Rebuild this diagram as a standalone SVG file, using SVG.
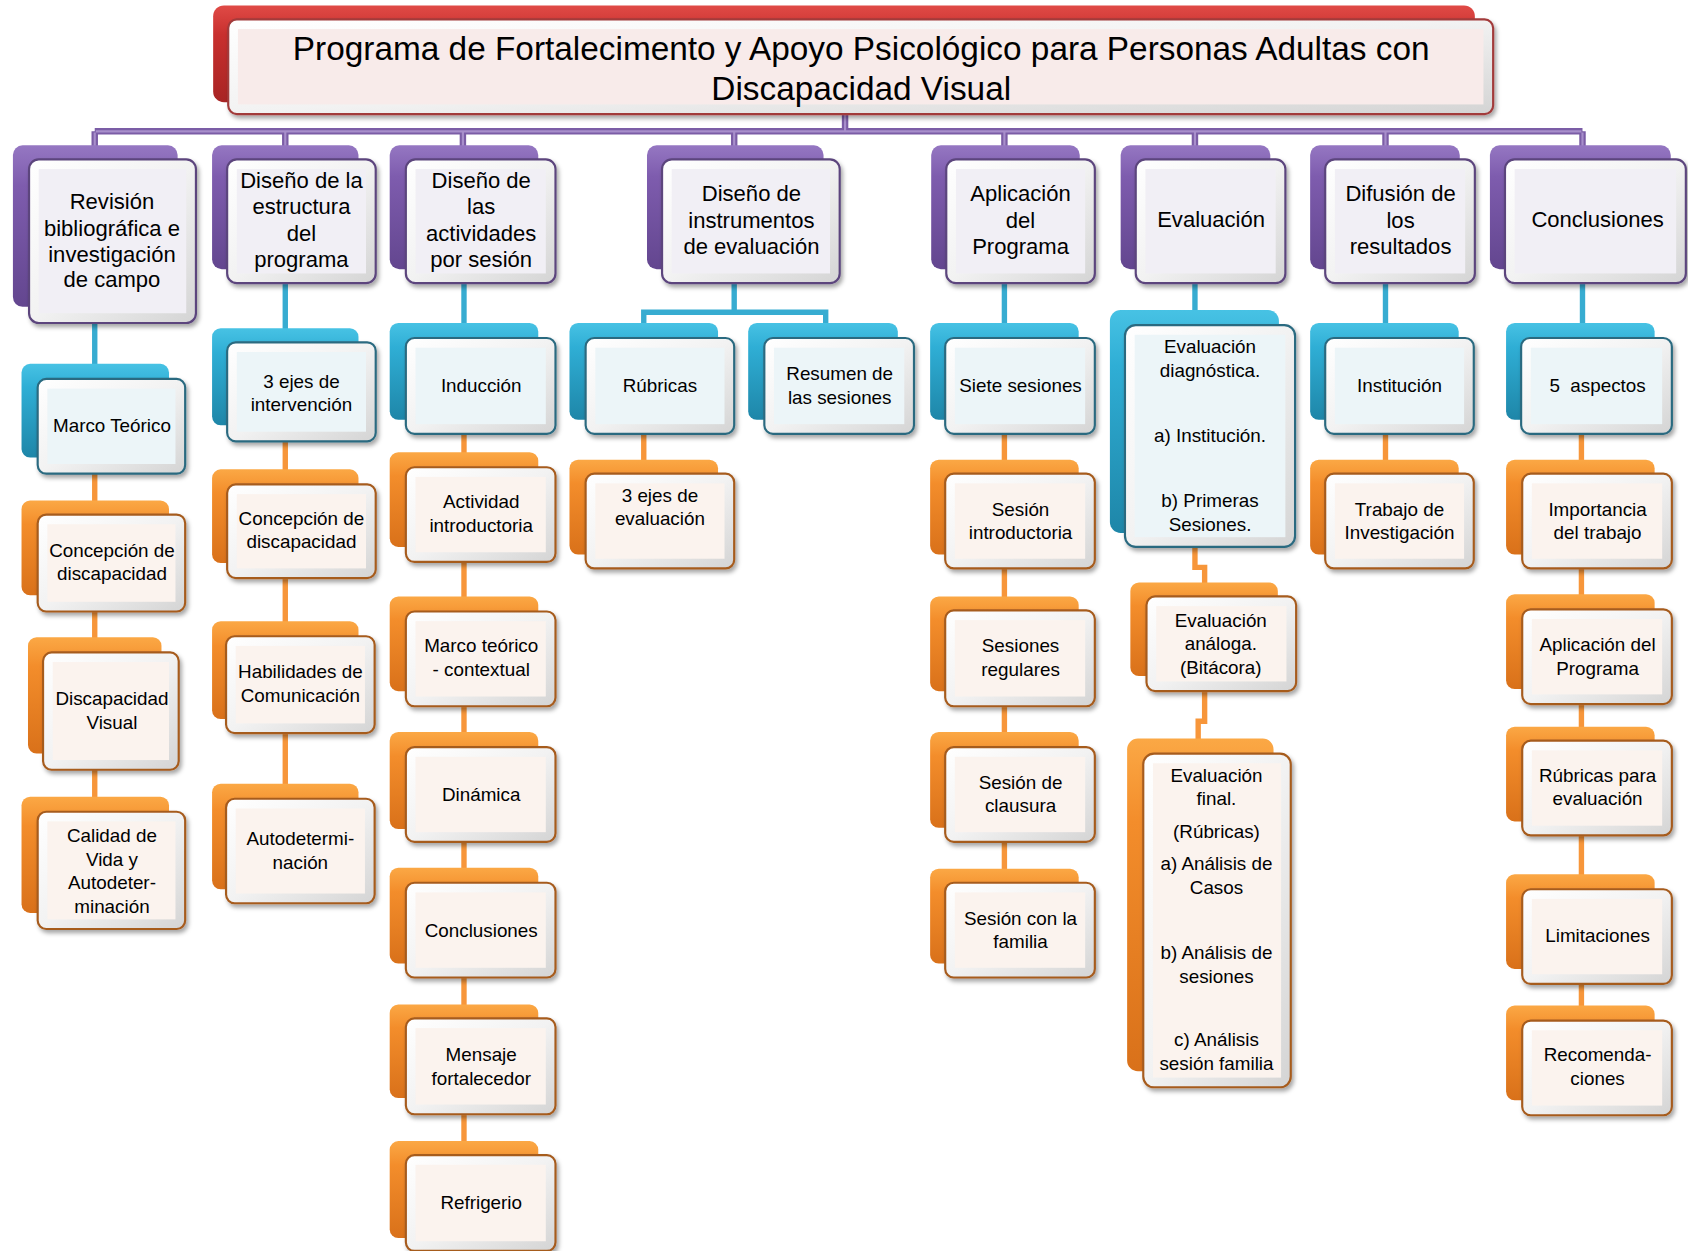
<svg xmlns="http://www.w3.org/2000/svg" width="1688" height="1251" viewBox="0 0 1688 1251">
<defs>
<linearGradient id="gP" x1="0" y1="0" x2="0" y2="1"><stop offset="0" stop-color="#9577C2"/><stop offset="0.25" stop-color="#7E5CAE"/><stop offset="1" stop-color="#63468F"/></linearGradient>
<linearGradient id="gB" x1="0" y1="0" x2="0" y2="1"><stop offset="0" stop-color="#47C2E4"/><stop offset="0.25" stop-color="#2FAED5"/><stop offset="1" stop-color="#1E86A8"/></linearGradient>
<linearGradient id="gO" x1="0" y1="0" x2="0" y2="1"><stop offset="0" stop-color="#FBA845"/><stop offset="0.25" stop-color="#F38D2B"/><stop offset="1" stop-color="#D9711A"/></linearGradient>
<linearGradient id="gR" x1="0" y1="0" x2="0" y2="1"><stop offset="0" stop-color="#E04A46"/><stop offset="0.3" stop-color="#C8302E"/><stop offset="1" stop-color="#A82424"/></linearGradient>
<linearGradient id="frame" x1="0" y1="0" x2="1" y2="1"><stop offset="0" stop-color="#FFFFFF"/><stop offset="0.5" stop-color="#F2F2F2"/><stop offset="1" stop-color="#D4D4D4"/></linearGradient>
<filter id="sh" x="-10%" y="-10%" width="125%" height="125%"><feDropShadow dx="2" dy="3" stdDeviation="2" flood-color="#000" flood-opacity="0.35"/></filter>
<style>
text{font-family:"Liberation Sans",Arial,sans-serif;fill:#000;text-anchor:middle}
.t0{font-size:31px}
.t1{font-size:20.5px}
.t2{font-size:17.5px}
.front{fill:url(#frame);stroke-width:2;filter:url(#sh)}
.purple .back{fill:url(#gP)}
.purple .front{stroke:#5B457D}
.purple .inner{fill:#F1EFF5}
.blue .back{fill:url(#gB)}
.blue .front{stroke:#2B6A80}
.blue .inner{fill:#ECF5F8}
.orange .back{fill:url(#gO)}
.orange .front{stroke:#A65B1F}
.orange .inner{fill:#FBF3EE}
.red .back{fill:url(#gR)}
.red .front{stroke:#A23A3A}
.red .inner{fill:#F8EBEA}
.cp{fill:none;stroke:#7B5DA6;stroke-width:6}
.cpi{fill:none;stroke:#A88FCB;stroke-width:2}
.cb{fill:none;stroke:#37ACD1;stroke-width:5}
.co{fill:none;stroke:#F7963A;stroke-width:5}
</style>
</defs>
<rect x="0" y="0" width="1688" height="1251" fill="#FFFFFF"/>
<g transform="scale(1.07653)">
<g id="connectors">
<path class="cp" d="M785,106 V122 M88,122 H1470 M88,122 V137 M265,122 V137 M430,122 V137 M682,122 V137 M933,122 V137 M1110,122 V137 M1287,122 V137 M1470,122 V137"/>
<path class="cpi" d="M785,106 V121 M89,122 H1469 M88,123 V137 M265,123 V137 M430,123 V137 M682,123 V137 M933,123 V137 M1110,123 V137 M1287,123 V137 M1470,123 V137"/>
<path class="cb" d="M88,298 V340 M265,262 V307 M431,262 V302 M682,262 V290 M598,302 V290 H767 V302 M933,262 V302 M1110,262 V290 M1287,262 V302 M1470,262 V302"/>
<path class="co" d="M88,438 V467 M88,566 V594 M88,713 V742 M265,408 V438 M265,535 V579 M265,679 V730 M431,401 V1062 M598,401 V429 M933,401 V809 M1110,506 V527 H1119 V543 M1119,640 V670 H1113 V688 M1287,401 V429 M1469,401 V936"/>
</g>

<g id="title" class="red">
<rect class="back" x="198" y="5" width="1172" height="90" rx="10"/>
<rect class="front" x="212" y="18" width="1175" height="88" rx="8"/>
<rect class="inner" x="221" y="27" width="1157" height="70"/>
<text class="t0" x="800"><tspan x="800" y="56">Programa de Fortalecimento y Apoyo Psicológico para Personas Adultas con</tspan><tspan x="800" y="93">Discapacidad Visual</tspan></text>
</g>

<g id="n-revision" class="node purple">
<rect class="back" x="12" y="135" width="153" height="150" rx="9"/>
<rect class="front" x="27" y="148" width="155" height="152" rx="9"/>
<rect class="inner" x="36" y="157" width="137" height="134"/>
<text class="t1"><tspan x="104" y="194">Revisión</tspan><tspan x="104" y="219">bibliográfica e</tspan><tspan x="104" y="243">investigación</tspan><tspan x="104" y="267">de campo</tspan></text>
</g>
<g id="n-estructura" class="node purple">
<rect class="back" x="197" y="135" width="136" height="115" rx="9"/>
<rect class="front" x="211" y="148" width="138" height="115" rx="9"/>
<rect class="inner" x="220" y="157" width="120" height="97"/>
<text class="t1"><tspan x="280" y="175">Diseño de la</tspan><tspan x="280" y="199">estructura</tspan><tspan x="280" y="224">del</tspan><tspan x="280" y="248">programa</tspan></text>
</g>
<g id="n-actividades" class="node purple">
<rect class="back" x="362" y="135" width="138" height="115" rx="9"/>
<rect class="front" x="377" y="148" width="139" height="115" rx="9"/>
<rect class="inner" x="386" y="157" width="121" height="97"/>
<text class="t1"><tspan x="447" y="175">Diseño de</tspan><tspan x="447" y="199">las</tspan><tspan x="447" y="224">actividades</tspan><tspan x="447" y="248">por sesión</tspan></text>
</g>
<g id="n-instrumentos" class="node purple">
<rect class="back" x="601" y="135" width="164" height="115" rx="9"/>
<rect class="front" x="615" y="148" width="165" height="115" rx="9"/>
<rect class="inner" x="624" y="157" width="147" height="97"/>
<text class="t1"><tspan x="698" y="187">Diseño de</tspan><tspan x="698" y="212">instrumentos</tspan><tspan x="698" y="236">de evaluación</tspan></text>
</g>
<g id="n-aplicacion" class="node purple">
<rect class="back" x="865" y="135" width="138" height="115" rx="9"/>
<rect class="front" x="879" y="148" width="138" height="115" rx="9"/>
<rect class="inner" x="888" y="157" width="120" height="97"/>
<text class="t1"><tspan x="948" y="187">Aplicación</tspan><tspan x="948" y="212">del</tspan><tspan x="948" y="236">Programa</tspan></text>
</g>
<g id="n-evaluacion" class="node purple">
<rect class="back" x="1041" y="135" width="139" height="115" rx="9"/>
<rect class="front" x="1055" y="148" width="139" height="115" rx="9"/>
<rect class="inner" x="1064" y="157" width="121" height="97"/>
<text class="t1" x="1125" y="211">Evaluación</text>
</g>
<g id="n-difusion" class="node purple">
<rect class="back" x="1217" y="135" width="139" height="115" rx="9"/>
<rect class="front" x="1231" y="148" width="139" height="115" rx="9"/>
<rect class="inner" x="1240" y="157" width="121" height="97"/>
<text class="t1"><tspan x="1301" y="187">Difusión de</tspan><tspan x="1301" y="212">los</tspan><tspan x="1301" y="236">resultados</tspan></text>
</g>
<g id="n-conclusiones" class="node purple">
<rect class="back" x="1384" y="135" width="168" height="115" rx="9"/>
<rect class="front" x="1398" y="148" width="168" height="115" rx="9"/>
<rect class="inner" x="1407" y="157" width="150" height="97"/>
<text class="t1" x="1484" y="211">Conclusiones</text>
</g>

<g id="n-marco-teorico" class="node blue">
<rect class="back" x="20" y="338" width="137" height="87" rx="8"/>
<rect class="front" x="35" y="352" width="137" height="88" rx="8"/>
<rect class="inner" x="44" y="361" width="119" height="70"/>
<text class="t2" x="104" y="401">Marco Teórico</text>
</g>
<g id="n-ejes-intervencion" class="node blue">
<rect class="back" x="197" y="305" width="136" height="90" rx="8"/>
<rect class="front" x="211" y="318" width="138" height="92" rx="8"/>
<rect class="inner" x="220" y="327" width="120" height="74"/>
<text class="t2"><tspan x="280" y="360">3 ejes de</tspan><tspan x="280" y="382">intervención</tspan></text>
</g>
<g id="n-induccion" class="node blue">
<rect class="back" x="362" y="300" width="138" height="90" rx="8"/>
<rect class="front" x="377" y="314" width="139" height="89" rx="8"/>
<rect class="inner" x="386" y="323" width="121" height="71"/>
<text class="t2" x="447" y="364">Inducción</text>
</g>
<g id="n-rubricas" class="node blue">
<rect class="back" x="529" y="300" width="138" height="90" rx="8"/>
<rect class="front" x="544" y="314" width="138" height="89" rx="8"/>
<rect class="inner" x="553" y="323" width="120" height="71"/>
<text class="t2" x="613" y="364">Rúbricas</text>
</g>
<g id="n-resumen" class="node blue">
<rect class="back" x="695" y="300" width="139" height="90" rx="8"/>
<rect class="front" x="710" y="314" width="139" height="89" rx="8"/>
<rect class="inner" x="719" y="323" width="121" height="71"/>
<text class="t2"><tspan x="780" y="353">Resumen de</tspan><tspan x="780" y="375">las sesiones</tspan></text>
</g>
<g id="n-siete-sesiones" class="node blue">
<rect class="back" x="864" y="300" width="138" height="90" rx="8"/>
<rect class="front" x="878" y="314" width="139" height="89" rx="8"/>
<rect class="inner" x="887" y="323" width="121" height="71"/>
<text class="t2" x="948" y="364">Siete sesiones</text>
</g>
<g id="n-diagnostica" class="node blue">
<rect class="back" x="1031" y="288" width="157" height="207" rx="10"/>
<rect class="front" x="1045" y="302" width="158" height="206" rx="10"/>
<rect class="inner" x="1054" y="311" width="140" height="188"/>
<text class="t2"><tspan x="1124" y="328">Evaluación</tspan><tspan x="1124" y="350">diagnóstica.</tspan><tspan x="1124" y="411">a) Institución.</tspan><tspan x="1124" y="471">b) Primeras</tspan><tspan x="1124" y="493">Sesiones.</tspan></text>
</g>
<g id="n-institucion" class="node blue">
<rect class="back" x="1217" y="300" width="138" height="90" rx="8"/>
<rect class="front" x="1231" y="314" width="138" height="89" rx="8"/>
<rect class="inner" x="1240" y="323" width="120" height="71"/>
<text class="t2" x="1300" y="364">Institución</text>
</g>
<g id="n-aspectos" class="node blue">
<rect class="back" x="1399" y="300" width="138" height="90" rx="8"/>
<rect class="front" x="1413" y="314" width="140" height="89" rx="8"/>
<rect class="inner" x="1422" y="323" width="122" height="71"/>
<text class="t2" x="1484" y="364">5&#160; aspectos</text>
</g>

<g id="n-concepcion-1" class="node orange">
<rect class="back" x="20" y="465" width="137" height="88" rx="8"/>
<rect class="front" x="35" y="478" width="137" height="90" rx="8"/>
<rect class="inner" x="44" y="487" width="119" height="72"/>
<text class="t2"><tspan x="104" y="517">Concepción de</tspan><tspan x="104" y="539">discapacidad</tspan></text>
</g>
<g id="n-discapacidad-visual" class="node orange">
<rect class="back" x="26" y="592" width="124" height="108" rx="8"/>
<rect class="front" x="40" y="606" width="126" height="109" rx="8"/>
<rect class="inner" x="49" y="615" width="108" height="91"/>
<text class="t2"><tspan x="104" y="655">Discapacidad</tspan><tspan x="104" y="677">Visual</tspan></text>
</g>
<g id="n-calidad" class="node orange">
<rect class="back" x="20" y="740" width="137" height="108" rx="8"/>
<rect class="front" x="35" y="754" width="137" height="109" rx="8"/>
<rect class="inner" x="44" y="763" width="119" height="91"/>
<text class="t2"><tspan x="104" y="782">Calidad de</tspan><tspan x="104" y="804">Vida y</tspan><tspan x="104" y="826">Autodeter-</tspan><tspan x="104" y="848">minación</tspan></text>
</g>
<g id="n-concepcion-2" class="node orange">
<rect class="back" x="197" y="436" width="136" height="87" rx="8"/>
<rect class="front" x="211" y="450" width="138" height="87" rx="8"/>
<rect class="inner" x="220" y="459" width="120" height="69"/>
<text class="t2"><tspan x="280" y="488">Concepción de</tspan><tspan x="280" y="509">discapacidad</tspan></text>
</g>
<g id="n-habilidades" class="node orange">
<rect class="back" x="197" y="577" width="136" height="91" rx="8"/>
<rect class="front" x="210" y="591" width="138" height="90" rx="8"/>
<rect class="inner" x="219" y="600" width="120" height="72"/>
<text class="t2"><tspan x="279" y="630">Habilidades de</tspan><tspan x="279" y="652">Comunicación</tspan></text>
</g>
<g id="n-autodeterminacion" class="node orange">
<rect class="back" x="197" y="728" width="136" height="98" rx="8"/>
<rect class="front" x="210" y="742" width="138" height="97" rx="8"/>
<rect class="inner" x="219" y="751" width="120" height="79"/>
<text class="t2"><tspan x="279" y="785">Autodetermi-</tspan><tspan x="279" y="807">nación</tspan></text>
</g>

<g id="n-actividad-intro" class="node orange">
<rect class="back" x="362" y="420" width="138" height="88" rx="8"/>
<rect class="front" x="377" y="434" width="139" height="88" rx="8"/>
<rect class="inner" x="386" y="443" width="121" height="70"/>
<text class="t2"><tspan x="447" y="472">Actividad</tspan><tspan x="447" y="494">introductoria</tspan></text>
</g>
<g id="n-marco-contextual" class="node orange">
<rect class="back" x="362" y="554" width="138" height="88" rx="8"/>
<rect class="front" x="377" y="568" width="139" height="88" rx="8"/>
<rect class="inner" x="386" y="577" width="121" height="70"/>
<text class="t2"><tspan x="447" y="606">Marco teórico</tspan><tspan x="447" y="628">- contextual</tspan></text>
</g>
<g id="n-dinamica" class="node orange">
<rect class="back" x="362" y="680" width="138" height="90" rx="8"/>
<rect class="front" x="377" y="694" width="139" height="88" rx="8"/>
<rect class="inner" x="386" y="703" width="121" height="70"/>
<text class="t2" x="447" y="744">Dinámica</text>
</g>
<g id="n-conclusiones-sesion" class="node orange">
<rect class="back" x="362" y="806" width="138" height="89" rx="8"/>
<rect class="front" x="377" y="820" width="139" height="88" rx="8"/>
<rect class="inner" x="386" y="829" width="121" height="70"/>
<text class="t2" x="447" y="870">Conclusiones</text>
</g>
<g id="n-mensaje" class="node orange">
<rect class="back" x="362" y="933" width="138" height="87" rx="8"/>
<rect class="front" x="377" y="946" width="139" height="89" rx="8"/>
<rect class="inner" x="386" y="955" width="121" height="71"/>
<text class="t2"><tspan x="447" y="986">Mensaje</tspan><tspan x="447" y="1008">fortalecedor</tspan></text>
</g>
<g id="n-refrigerio" class="node orange">
<rect class="back" x="362" y="1060" width="138" height="90" rx="8"/>
<rect class="front" x="377" y="1073" width="139" height="89" rx="8"/>
<rect class="inner" x="386" y="1082" width="121" height="71"/>
<text class="t2" x="447" y="1123">Refrigerio</text>
</g>

<g id="n-ejes-evaluacion" class="node orange">
<rect class="back" x="529" y="427" width="138" height="88" rx="8"/>
<rect class="front" x="544" y="440" width="138" height="88" rx="8"/>
<rect class="inner" x="553" y="449" width="120" height="70"/>
<text class="t2"><tspan x="613" y="466">3 ejes de</tspan><tspan x="613" y="488">evaluación</tspan></text>
</g>

<g id="n-sesion-intro" class="node orange">
<rect class="back" x="864" y="427" width="138" height="88" rx="8"/>
<rect class="front" x="878" y="440" width="139" height="88" rx="8"/>
<rect class="inner" x="887" y="449" width="121" height="70"/>
<text class="t2"><tspan x="948" y="479">Sesión</tspan><tspan x="948" y="501">introductoria</tspan></text>
</g>
<g id="n-regulares" class="node orange">
<rect class="back" x="864" y="554" width="138" height="88" rx="8"/>
<rect class="front" x="878" y="567" width="139" height="89" rx="8"/>
<rect class="inner" x="887" y="576" width="121" height="71"/>
<text class="t2"><tspan x="948" y="606">Sesiones</tspan><tspan x="948" y="628">regulares</tspan></text>
</g>
<g id="n-clausura" class="node orange">
<rect class="back" x="864" y="680" width="138" height="89" rx="8"/>
<rect class="front" x="878" y="694" width="139" height="88" rx="8"/>
<rect class="inner" x="887" y="703" width="121" height="70"/>
<text class="t2"><tspan x="948" y="733">Sesión de</tspan><tspan x="948" y="754">clausura</tspan></text>
</g>
<g id="n-familia" class="node orange">
<rect class="back" x="864" y="807" width="138" height="88" rx="8"/>
<rect class="front" x="878" y="820" width="139" height="88" rx="8"/>
<rect class="inner" x="887" y="829" width="121" height="70"/>
<text class="t2"><tspan x="948" y="859">Sesión con la</tspan><tspan x="948" y="881">familia</tspan></text>
</g>

<g id="n-analoga" class="node orange">
<rect class="back" x="1050" y="541" width="137" height="87" rx="8"/>
<rect class="front" x="1065" y="554" width="139" height="88" rx="8"/>
<rect class="inner" x="1074" y="563" width="121" height="70"/>
<text class="t2"><tspan x="1134" y="582">Evaluación</tspan><tspan x="1134" y="604">análoga.</tspan><tspan x="1134" y="626">(Bitácora)</tspan></text>
</g>
<g id="n-final" class="node orange">
<rect class="back" x="1047" y="686" width="136" height="309" rx="10"/>
<rect class="front" x="1062" y="700" width="137" height="310" rx="10"/>
<rect class="inner" x="1071" y="709" width="119" height="292"/>
<text class="t2"><tspan x="1130" y="726">Evaluación</tspan><tspan x="1130" y="748">final.</tspan><tspan x="1130" y="778">(Rúbricas)</tspan><tspan x="1130" y="808">a) Análisis de</tspan><tspan x="1130" y="830">Casos</tspan><tspan x="1130" y="891">b) Análisis de</tspan><tspan x="1130" y="913">sesiones</tspan><tspan x="1130" y="972">c) Análisis</tspan><tspan x="1130" y="994">sesión familia</tspan></text>
</g>

<g id="n-trabajo" class="node orange">
<rect class="back" x="1217" y="427" width="138" height="88" rx="8"/>
<rect class="front" x="1231" y="440" width="138" height="88" rx="8"/>
<rect class="inner" x="1240" y="449" width="120" height="70"/>
<text class="t2"><tspan x="1300" y="479">Trabajo de</tspan><tspan x="1300" y="501">Investigación</tspan></text>
</g>

<g id="n-importancia" class="node orange">
<rect class="back" x="1399" y="427" width="138" height="88" rx="8"/>
<rect class="front" x="1414" y="440" width="139" height="88" rx="8"/>
<rect class="inner" x="1423" y="449" width="121" height="70"/>
<text class="t2"><tspan x="1484" y="479">Importancia</tspan><tspan x="1484" y="501">del trabajo</tspan></text>
</g>
<g id="n-aplicacion-programa" class="node orange">
<rect class="back" x="1399" y="552" width="138" height="88" rx="8"/>
<rect class="front" x="1414" y="566" width="139" height="88" rx="8"/>
<rect class="inner" x="1423" y="575" width="121" height="70"/>
<text class="t2"><tspan x="1484" y="605">Aplicación del</tspan><tspan x="1484" y="627">Programa</tspan></text>
</g>
<g id="n-rubricas-evaluacion" class="node orange">
<rect class="back" x="1399" y="675" width="138" height="88" rx="8"/>
<rect class="front" x="1414" y="688" width="139" height="88" rx="8"/>
<rect class="inner" x="1423" y="697" width="121" height="70"/>
<text class="t2"><tspan x="1484" y="726">Rúbricas para</tspan><tspan x="1484" y="748">evaluación</tspan></text>
</g>
<g id="n-limitaciones" class="node orange">
<rect class="back" x="1399" y="812" width="138" height="88" rx="8"/>
<rect class="front" x="1414" y="826" width="139" height="88" rx="8"/>
<rect class="inner" x="1423" y="835" width="121" height="70"/>
<text class="t2" x="1484" y="875">Limitaciones</text>
</g>
<g id="n-recomendaciones" class="node orange">
<rect class="back" x="1399" y="934" width="138" height="88" rx="8"/>
<rect class="front" x="1414" y="948" width="139" height="88" rx="8"/>
<rect class="inner" x="1423" y="957" width="121" height="70"/>
<text class="t2"><tspan x="1484" y="986">Recomenda-</tspan><tspan x="1484" y="1008">ciones</tspan></text>
</g>
</g>
</svg>
